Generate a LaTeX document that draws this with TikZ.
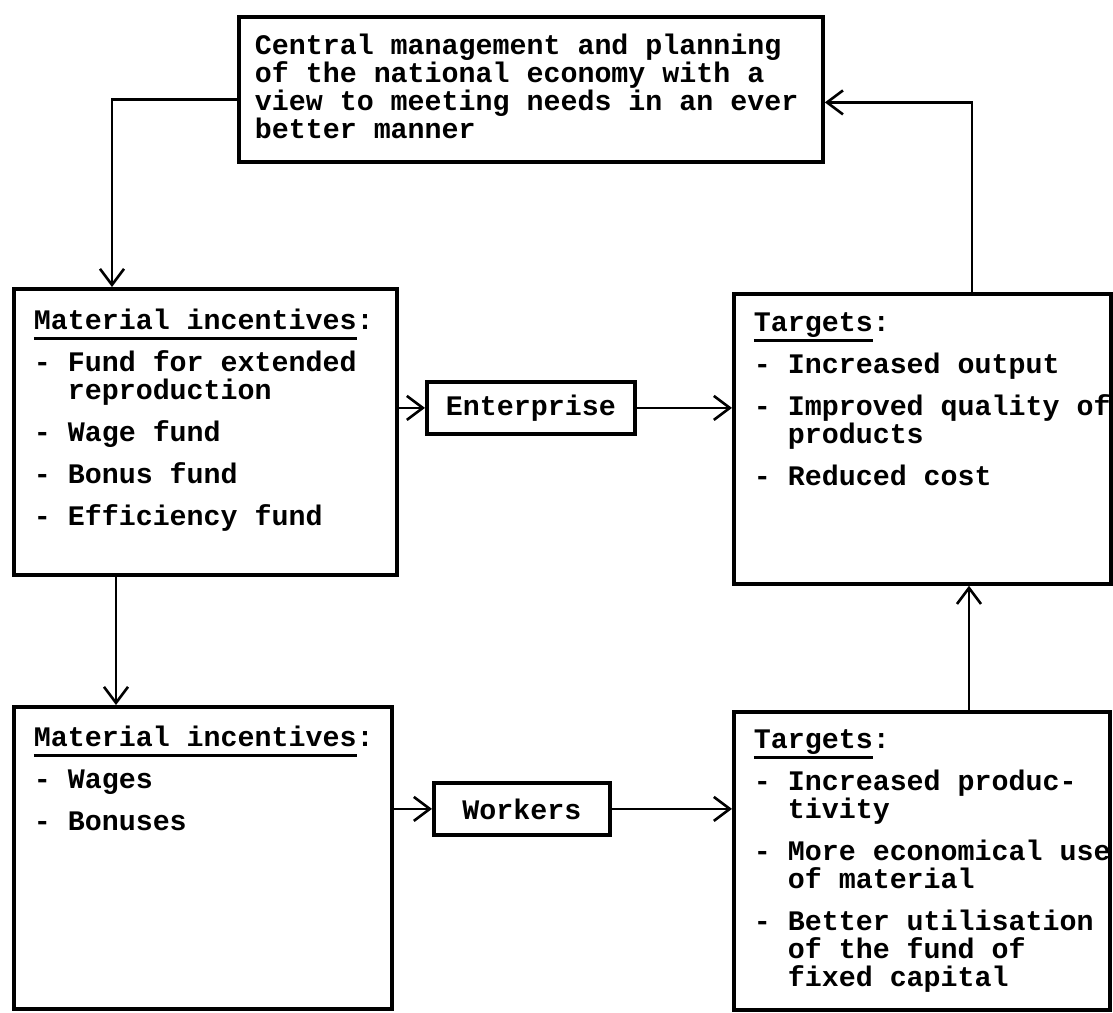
\documentclass[tikz,border=0pt]{standalone}
\usepackage{fontspec}
\newfontfamily\tw{Liberation Mono}
\usetikzlibrary{arrows.meta}
\newcommand{\tfont}{\tw\bfseries\fontsize{28.3pt}{28pt}\selectfont}
\newcommand{\ind}{\hspace*{2\fontcharwd\font`\0}}
\newcommand{\ul}[1]{\setbox0\hbox{#1}\rlap{\rule[-10pt]{\wd0}{2.6pt}}\box0}
\newcommand{\btext}[5]{\parbox[c][#2][t]{#1}{\tfont\raggedright\rightskip=-30pt plus 1fil\leftskip=#3\relax\lineskiplimit=-100pt\hyphenpenalty=10000\vspace*{#4}#5}}
\tikzset{
  box/.style={draw, line width=3.8pt, inner sep=0pt, anchor=north west},
  tagbox/.style={box, minimum width=#1, minimum height=52pt, font=\tfont},
  conn/.style={line width=2.6pt, -{Straight Barb[length=16pt,width=24pt]}}
}
\begin{document}
\begin{tikzpicture}[x=1pt,y=-1pt]
\useasboundingbox (0,0) rectangle (1113,1012);
\node[box] (top) at (237,15) {\btext{584pt}{145pt}{16pt}{17.4pt}{\strut Central management and planning\\of the national economy with a\\view to meeting needs in an ever\\better manner}};
\node[box] (lb1) at (12,287) {\btext{383pt}{286pt}{20pt}{20.4pt}{\strut\ul{Material incentives}:\\[14pt]- Fund for extended\\\ind reproduction\\[14pt]- Wage fund\\[14pt]- Bonus fund\\[14pt]- Efficiency fund}};
\node[tagbox=208pt] (ent) at (425,380) {Enterprise};
\node[box] (t1) at (732,292) {\btext{377pt}{290pt}{20pt}{18.4pt}{\strut\ul{Targets}:\\[14pt]- Increased output\\[14pt]- Improved quality of\\\ind products\\[14pt]- Reduced cost}};
\node[box] (lb2) at (12,705) {\btext{378pt}{302pt}{20pt}{19.4pt}{\strut\ul{Material incentives}:\\[14pt]- Wages\\[14pt]- Bonuses}};
\node[tagbox=176pt] (wk) at (432,781) {Workers};
\node[box] (t2) at (732,710) {\btext{376pt}{298pt}{20pt}{17.4pt}{\strut\ul{Targets}:\\[14pt]- Increased produc-\\\ind tivity\\[14pt]- More economical use\\\ind of material\\[14pt]- Better utilisation\\\ind of the fund of\\\ind fixed capital}};
\coordinate (c1) at ([xshift=237pt]t2.north west);
\draw[conn] ([yshift=-10pt]top.west) -| ([xshift=100pt]lb1.north west);
\draw[conn] ([xshift=240pt]t1.north west) |- ([yshift=-13pt]top.east);
\draw[conn] (lb1.east |- ent.west) -- (ent.west);
\draw[conn] (ent.east) -- (ent.east -| t1.west);
\draw[conn] ([xshift=104pt]lb1.south west) -- ([xshift=104pt]lb2.north west);
\draw[conn] (lb2.east |- wk.west) -- (wk.west);
\draw[conn] (wk.east) -- (wk.east -| t2.west);
\draw[conn] (c1) -- (c1 |- t1.south);
\end{tikzpicture}
\end{document}
